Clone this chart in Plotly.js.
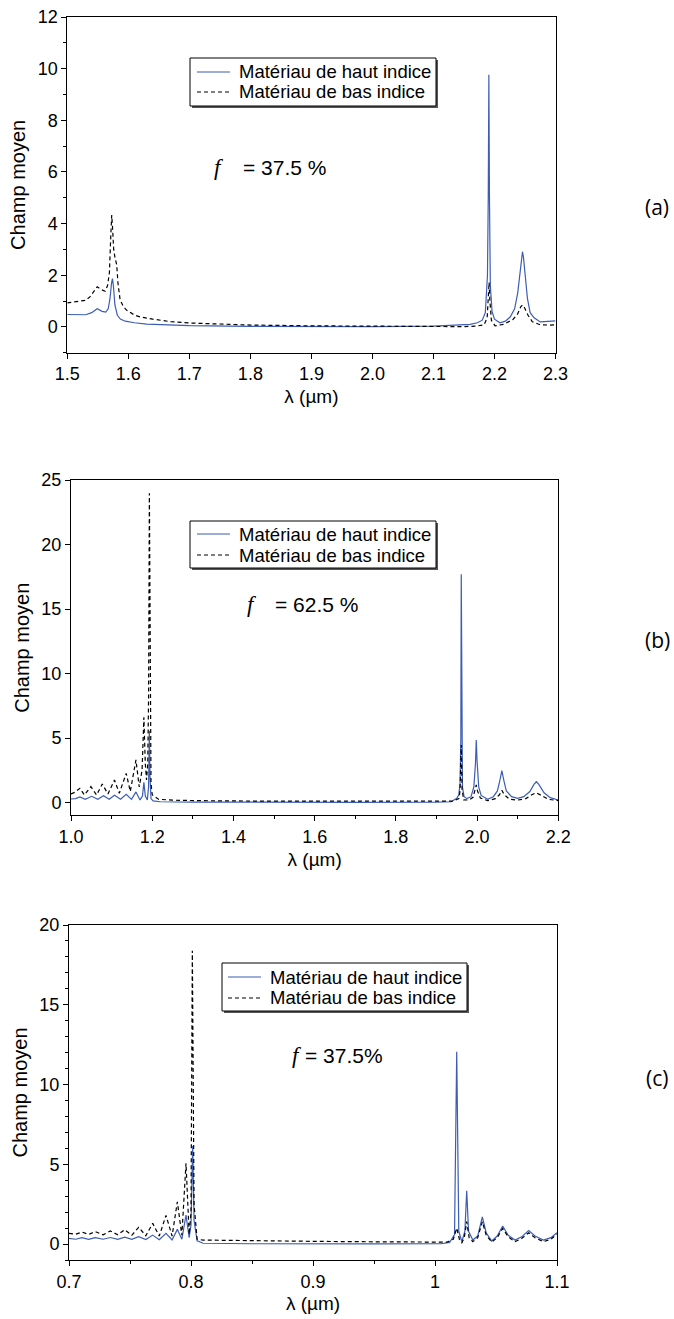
<!DOCTYPE html>
<html>
<head>
<meta charset="utf-8">
<script src="https://cdn.plot.ly/plotly-3.0.1.min.js"></script>
<style>html,body{margin:0;padding:0;background:#fff;}#chart{width:674px;height:1319px;}</style>
</head>
<body>
<div id="chart"></div>
<script>
// ---------- Data ----------
const seriesNames = ["Matériau de haut indice", "Matériau de bas indice"];
const panelLabels = ["(a)", "(b)", "(c)"];
const fillFactors = ["= 37.5 %", "= 62.5 %", "= 37.5%"];
const axisTitleX = "λ (µm)";
const axisTitleY = "Champ moyen";

// Panel (a)
const lambdaA_high = [1.50,1.52,1.53,1.54,1.549,1.557,1.563,1.567,1.570,1.5725,1.574,1.5755,1.578,1.582,1.587,1.595,1.61,1.63,1.66,1.70,1.80,1.90,2.00,2.10,2.14,2.16,2.172,2.180,2.185,2.1885,2.1898,2.1908,2.1918,2.1932,2.196,2.200,2.209,2.218,2.226,2.233,2.238,2.242,2.2445,2.2459,2.2475,2.250,2.254,2.2585,2.265,2.275,2.287,2.30];
const fieldA_high  = [0.48,0.48,0.47,0.55,0.70,0.60,0.57,0.70,1.10,1.70,1.87,1.60,0.85,0.45,0.30,0.22,0.16,0.11,0.08,0.05,0.02,0.01,0.01,0.03,0.06,0.10,0.16,0.26,0.55,2.0,5.0,9.76,5.0,1.6,0.6,0.30,0.16,0.22,0.39,0.70,1.30,2.20,2.75,2.91,2.70,1.95,1.10,0.55,0.35,0.19,0.20,0.23];
const lambdaA_low  = [1.50,1.52,1.53,1.537,1.544,1.549,1.555,1.562,1.566,1.569,1.5714,1.5728,1.574,1.576,1.578,1.581,1.583,1.5865,1.592,1.597,1.61,1.62,1.64,1.67,1.70,1.75,1.80,1.90,2.00,2.10,2.15,2.17,2.183,2.188,2.190,2.1912,2.1925,2.195,2.201,2.215,2.230,2.238,2.243,2.246,2.249,2.255,2.262,2.275,2.29,2.30];
const fieldA_low   = [0.93,1.00,1.03,1.16,1.40,1.55,1.45,1.38,1.60,2.10,3.60,4.33,3.90,3.00,2.70,2.40,1.70,1.05,0.78,0.65,0.46,0.38,0.30,0.20,0.15,0.10,0.07,0.04,0.02,0.01,0.01,0.03,0.08,0.35,1.00,1.72,1.00,0.25,0.04,0.10,0.28,0.50,0.78,0.85,0.75,0.45,0.20,0.08,0.07,0.08];

// Panel (b)
const lambdaB_high = [1.000,1.011,1.022,1.035,1.051,1.066,1.080,1.094,1.107,1.122,1.136,1.149,1.160,1.170,1.176,1.1795,1.183,1.188,1.191,1.193,1.1945,1.197,1.202,1.22,1.30,1.50,1.70,1.90,1.936,1.950,1.955,1.958,1.960,1.961,1.962,1.964,1.968,1.975,1.985,1.992,1.996,1.998,2.000,2.004,2.010,2.026,2.040,2.050,2.056,2.061,2.066,2.072,2.085,2.100,2.115,2.130,2.140,2.146,2.152,2.165,2.180,2.200];
const fieldB_high  = [0.27,0.30,0.43,0.25,0.48,0.25,0.53,0.25,0.56,0.25,0.64,0.24,0.82,0.20,0.50,1.56,0.50,0.20,1.20,5.57,2.00,0.30,0.12,0.06,0.03,0.01,0.01,0.03,0.06,0.32,0.60,1.50,5.00,17.7,5.00,1.20,0.45,0.30,0.45,1.20,3.00,4.84,3.20,1.20,0.55,0.25,0.45,0.90,1.70,2.47,1.70,0.90,0.45,0.32,0.45,0.85,1.40,1.61,1.40,0.75,0.38,0.19];
const lambdaB_low  = [1.000,1.010,1.022,1.033,1.049,1.063,1.077,1.091,1.107,1.119,1.136,1.146,1.160,1.168,1.175,1.1795,1.183,1.186,1.189,1.191,1.193,1.195,1.197,1.200,1.2156,1.25,1.32,1.50,1.70,1.90,1.940,1.955,1.958,1.961,1.963,1.967,1.980,1.990,1.995,1.998,2.001,2.008,2.026,2.045,2.055,2.061,2.067,2.080,2.100,2.120,2.135,2.146,2.158,2.175,2.200];
const fieldB_low   = [0.66,0.80,1.10,0.58,1.23,0.58,1.43,0.66,1.74,0.72,2.26,0.85,3.30,1.20,2.50,6.60,3.00,1.74,3.00,8.00,23.97,6.00,1.50,0.60,0.25,0.18,0.14,0.10,0.08,0.06,0.10,0.30,0.90,4.46,1.00,0.20,0.19,0.40,0.90,1.36,0.90,0.35,0.14,0.30,0.60,0.95,0.60,0.25,0.19,0.30,0.60,0.76,0.55,0.25,0.14];

// Panel (c)
const lambdaC_high = [0.700,0.7055,0.7107,0.716,0.7216,0.728,0.7339,0.740,0.7457,0.7515,0.7571,0.763,0.7686,0.774,0.7795,0.7845,0.7888,0.7925,0.7959,0.7985,0.8000,0.8014,0.8025,0.805,0.81,0.85,0.95,1.005,1.012,1.016,1.0178,1.0195,1.022,1.0245,1.026,1.0275,1.031,1.035,1.0388,1.042,1.0465,1.051,1.0555,1.060,1.0656,1.071,1.0768,1.082,1.0888,1.095,1.100];
const fieldC_high  = [0.35,0.30,0.40,0.30,0.40,0.30,0.41,0.29,0.43,0.29,0.46,0.28,0.56,0.27,0.67,0.26,0.92,0.30,1.82,0.40,1.20,6.14,1.50,0.20,0.05,0.02,0.01,0.02,0.10,0.60,12.06,0.80,0.15,0.80,3.34,0.80,0.25,0.50,1.71,0.70,0.19,0.50,1.13,0.55,0.25,0.45,0.84,0.50,0.25,0.40,0.71];
const lambdaC_low  = [0.700,0.7055,0.7107,0.716,0.7216,0.728,0.7339,0.740,0.7457,0.7515,0.7571,0.763,0.7686,0.774,0.7795,0.7845,0.7888,0.7925,0.7959,0.7985,0.8000,0.8011,0.8025,0.805,0.81,0.85,0.90,0.95,1.000,1.010,1.015,1.0178,1.020,1.022,1.024,1.026,1.028,1.031,1.035,1.0388,1.042,1.0465,1.051,1.0555,1.060,1.0656,1.071,1.0768,1.082,1.0888,1.095,1.100];
const fieldC_low   = [0.67,0.62,0.75,0.60,0.78,0.58,0.82,0.58,0.90,0.55,1.05,0.52,1.30,0.50,1.80,0.50,2.65,0.55,5.06,0.60,2.00,18.39,2.50,0.30,0.25,0.20,0.17,0.14,0.10,0.12,0.30,1.00,0.30,0.08,0.40,1.40,0.40,0.15,0.40,1.40,0.55,0.12,0.40,0.98,0.45,0.15,0.35,0.71,0.40,0.15,0.30,0.62];

// ---------- Layout helpers ----------
const W = 674, H = 1319;
const fx = p => p / W;
const fy = p => 1 - p / H;
const BLUE = '#3d5db5';
const DASH = '4px,3px';
const SANS = 'Liberation Sans, Arial, sans-serif';
const tickFont = {family: SANS, size: 18, color: '#000'};
const titleFont = {family: SANS, size: 19, color: '#000'};

function mk(x, y, name, isHigh, ax) {
  return {
    x: x, y: y, name: name, type: 'scatter', mode: 'lines',
    xaxis: ax[0], yaxis: ax[1], showlegend: false,
    line: isHigh ? {color: BLUE, width: 1.2} : {color: '#000', width: 1.2, dash: DASH}
  };
}

const traces = [
  mk(lambdaA_high, fieldA_high, seriesNames[0], true,  ['x','y']),
  mk(lambdaA_low,  fieldA_low,  seriesNames[1], false, ['x','y']),
  mk(lambdaB_high, fieldB_high, seriesNames[0], true,  ['x2','y2']),
  mk(lambdaB_low,  fieldB_low,  seriesNames[1], false, ['x2','y2']),
  mk(lambdaC_high, fieldC_high, seriesNames[0], true,  ['x3','y3']),
  mk(lambdaC_low,  fieldC_low,  seriesNames[1], false, ['x3','y3'])
];

function xax(dom, range, dtick, fmt, minor, anchor) {
  const a = {
    domain: [fx(dom[0]), fx(dom[1])], range: range, dtick: dtick, tick0: range[0],
    ticks: 'outside', ticklen: 5, tickwidth: 1, tickcolor: '#000',
    showline: true, linecolor: '#000', linewidth: 1, mirror: true,
    showgrid: false, zeroline: false, tickfont: tickFont, anchor: anchor,
    title: {text: axisTitleX, font: titleFont, standoff: 6}
  };
  if (fmt) a.tickformat = fmt;
  if (minor) a.minor = {ticks: 'outside', ticklen: 3, dtick: minor, tickcolor: '#000', showgrid: false};
  return a;
}
function yax(dom, range, dtick, minor, anchor) {
  const a = {
    domain: [fy(dom[1]), fy(dom[0])], range: range, dtick: dtick, tick0: 0,
    ticks: 'outside', ticklen: 5, tickwidth: 1, tickcolor: '#000',
    showline: true, linecolor: '#000', linewidth: 1, mirror: true,
    showgrid: false, zeroline: false, tickfont: tickFont, anchor: anchor,
    title: {text: axisTitleY, font: {family: SANS, size: 20, color: '#000'}, standoff: 6}
  };
  if (minor) a.minor = {ticks: 'outside', ticklen: 3, dtick: minor, tick0: 0, tickcolor: '#000', showgrid: false};
  return a;
}

// Legend boxes drawn with shapes + text annotations
// [left, top, right, bottom, row1 y, row2 y, sample x0, sample x1, text x]
const legendBoxes = [
  [190, 58, 436, 106, 72, 92, 197, 230, 239],
  [190, 521, 436, 568, 534, 555, 197, 230, 239],
  [222, 963, 467, 1011, 977, 998, 228, 261, 270]
];
const shapes = [];
const annotations = [];
legendBoxes.forEach(b => {
  const [l, t, r, bt, r1, r2, s0, s1, tx] = b;
  shapes.push({type: 'rect', xref: 'paper', yref: 'paper', layer: 'above',
    x0: fx(l + 2), x1: fx(r + 2), y0: fy(bt + 2), y1: fy(t + 2), fillcolor: '#555', line: {width: 0}});
  shapes.push({type: 'rect', xref: 'paper', yref: 'paper', layer: 'above',
    x0: fx(l), x1: fx(r), y0: fy(bt), y1: fy(t), fillcolor: '#fff', line: {color: '#000', width: 1}});
  shapes.push({type: 'line', xref: 'paper', yref: 'paper', layer: 'above',
    x0: fx(s0), x1: fx(s1), y0: fy(r1), y1: fy(r1), line: {color: BLUE, width: 1.2}});
  shapes.push({type: 'line', xref: 'paper', yref: 'paper', layer: 'above',
    x0: fx(s0), x1: fx(s1), y0: fy(r2), y1: fy(r2), line: {color: '#000', width: 1.2, dash: DASH}});
  [r1, r2].forEach((ry, i) => annotations.push({xref: 'paper', yref: 'paper', x: fx(tx - 2), y: fy(ry),
    xanchor: 'left', yanchor: 'middle', showarrow: false, text: seriesNames[i],
    font: {family: SANS, size: 18.5, color: '#000'}}));
});

// f = ... annotations: [f x, y centre, text x]
const fPos = [[212, 167, 241], [245, 605, 273], [290, 1055, 303]];
fPos.forEach((p, i) => {
  annotations.push({xref: 'paper', yref: 'paper', x: fx(p[0]), y: fy(p[1]), xanchor: 'left', yanchor: 'middle',
    showarrow: false, text: '<i>f</i>', font: {family: 'Liberation Serif, Times New Roman, serif', size: 23, color: '#000'}});
  annotations.push({xref: 'paper', yref: 'paper', x: fx(p[2]), y: fy(p[1]), xanchor: 'left', yanchor: 'middle',
    showarrow: false, text: fillFactors[i], font: {family: SANS, size: 21, color: '#000'}});
});
// panel labels
[[panelLabels[0], 207], [panelLabels[1], 640], [panelLabels[2], 1078]].forEach(p => {
  annotations.push({xref: 'paper', yref: 'paper', x: fx(657), y: fy(p[1]), xanchor: 'center', yanchor: 'middle',
    showarrow: false, text: p[0], font: {family: 'Open Sans, Noto Sans, sans-serif', size: 21, color: '#000'}});
});

const layout = {
  width: W, height: H, margin: {l: 0, r: 0, t: 0, b: 0},
  paper_bgcolor: '#fff', plot_bgcolor: '#fff', showlegend: false,
  xaxis:  xax([67.3, 555.5], [1.5, 2.3], 0.1, '.1f', null, 'y'),
  yaxis:  yax([17, 352.7], [-1, 12], 2, 1, 'x'),
  xaxis2: xax([71, 558.3], [1.0, 2.2], 0.2, '.1f', 0.1, 'y2'),
  yaxis2: yax([480, 815.4], [-1, 25], 5, null, 'x2'),
  xaxis3: xax([69, 557], [0.7, 1.1], 0.1, null, 0.05, 'y3'),
  yaxis3: yax([925, 1260], [-1, 20], 5, 1, 'x3'),
  shapes: shapes,
  annotations: annotations
};

Plotly.newPlot('chart', traces, layout, {displayModeBar: false, staticPlot: true});
</script>
</body>
</html>
